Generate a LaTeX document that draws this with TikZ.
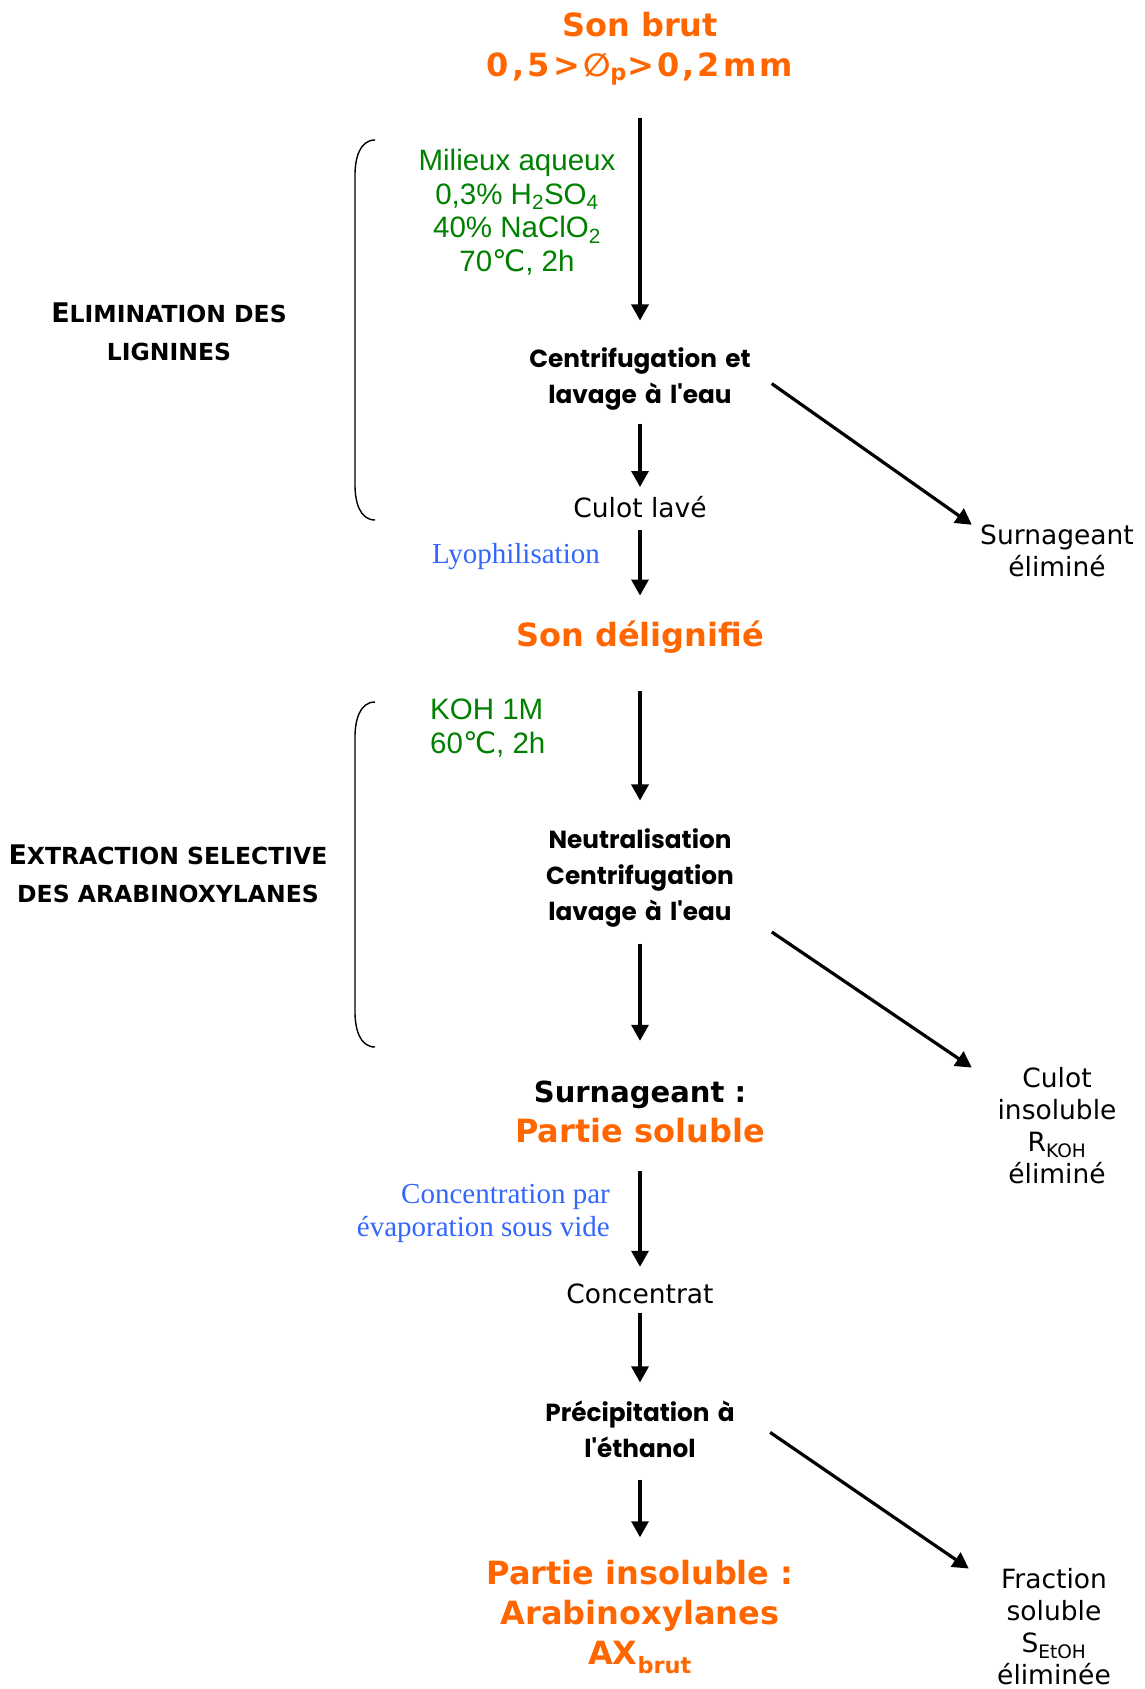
\documentclass[tikz,border=0pt]{standalone}
\usepackage{fontspec}
\setmainfont{DejaVu Sans}
\newfontfamily\orangefont{DejaVu Sans}
\newfontfamily\stepfont{Poppins}
\newfontfamily\greenfont{Liberation Sans}
\newfontfamily\bluefont{Liberation Serif}
\usepackage{tikz}
\usetikzlibrary{arrows.meta,positioning}
\definecolor{sonorange}{HTML}{FF6600}
\definecolor{condgreen}{HTML}{008000}
\definecolor{opblue}{HTML}{3366FF}
\newcommand{\phaseinit}[1]{{\fontsize{27}{39}\selectfont #1}}
\tikzset{
  >={Triangle[length=16pt,width=17pt]},
  prod/.style={inner sep=0pt, align=center, text=sonorange, font=\orangefont\bfseries\fontsize{32}{40}\selectfont},
  stepbx/.style={inner sep=0pt, align=center, text width=250pt, font=\stepfont\bfseries\fontsize{24.75}{36}\selectfont},
  plain/.style={inner sep=0pt, align=center, font=\fontsize{26.5}{32}\selectfont},
  side/.style={plain, text width=170pt},
  cond/.style={inner sep=0pt, text=condgreen, font=\greenfont\fontsize{29.5}{33.5}\selectfont},
  oper/.style={inner sep=0pt, text=opblue, font=\bluefont\fontsize{29}{33}\selectfont},
  phase/.style={inner sep=0pt, align=center, font=\bfseries\fontsize{23.5}{38}\selectfont},
  tr/.style={->, line width=3.2pt},
  brace/.style={line width=1.4pt}
}

\begin{document}
\begin{tikzpicture}[x=1pt, y=-1pt]
    \useasboundingbox (0,0) rectangle (1144,1689);

    % Main column
    \node[prod] (brut) at (640, 49) {Son brut\\{\addfontfeature{LetterSpace=10}0,5>∅\textsubscript{p}>0,2mm}};
    \node[stepbx] (centri1) at (640, 379) {Centrifugation et\\lavage à l'eau};
    \node[plain] (culot1) at (640, 507) {Culot lavé};
    \node[prod] (delig) at (640, 637) {Son délignifié};
    \node[stepbx] (neutral) at (640, 878) {Neutralisation\\Centrifugation\\lavage à l'eau};
    \node[prod, align=center] (soluble) at (640, 1112) {{\color{black}\fontsize{29}{35}\selectfont Surnageant :}\\Partie soluble};
    \node[plain] (concentrat) at (640, 1294) {Concentrat};
    \node[stepbx] (precip) at (640, 1429) {Précipitation à\\l'éthanol};
    \node[prod] (axbrut) at (640, 1617) {Partie insoluble :\\Arabinoxylanes\\AX\textsubscript{brut}};

    % Conditions and operations
    \node[cond, align=center] (milieu) at (517, 212) {Milieux aqueux\\0,3\% H\textsubscript{2}SO\textsubscript{4}\\40\% NaClO\textsubscript{2}\\70{\rmfamily ℃}, 2h};
    \node[cond, align=left, anchor=west] (koh) at (430, 728) {KOH 1M\\60{\rmfamily ℃}, 2h};
    \node[oper] (lyo) at (516, 557) {Lyophilisation};
    \node[oper, align=right, anchor=east] (evap) at (610, 1213) {Concentration par\\évaporation sous vide};

    % Removed fractions
    \node[side] (surn1) at (1057, 551) {Surnageant\\éliminé};
    \node[side] (culot2) at (1057, 1126) {Culot\\insoluble\\R\textsubscript{KOH}\\éliminé};
    \node[side] (fraction) at (1054, 1627) {Fraction\\soluble\\S\textsubscript{EtOH}\\éliminée};

    % Phases
    \node[phase] (elim) at (169, 332) {\phaseinit{E}LIMINATION DES\\LIGNINES};
    \node[phase] (extr) at (168, 874) {\phaseinit{E}XTRACTION SELECTIVE\\DES ARABINOXYLANES};
    \draw[brace] (375,140) to[out=180,in=90] (355,175) -- (355,485) to[out=-90,in=180] (375,520);
    \draw[brace] (375,702) to[out=180,in=90] (355,737) -- (355,1012) to[out=-90,in=180] (375,1047);

    % Flow
    \draw[tr, shorten <=32pt, shorten >=27pt] (brut) -- (centri1);
    \draw[tr, shorten <=13pt, shorten >=9pt] (centri1) -- (culot1);
    \draw[tr, shorten <=12pt, shorten >=25pt] (culot1) -- (delig);
    \draw[tr, shorten <=38pt, shorten >=28pt] (delig) -- (neutral);
    \draw[tr, shorten <=16pt, shorten >=40pt] (neutral) -- (soluble);
    \draw[tr, shorten <=28pt, shorten >=17pt] (soluble) -- (concentrat);
    \draw[tr, shorten <=9pt, shorten >=18pt] (concentrat) -- (precip);
    \draw[tr, shorten <=22pt, shorten >=23pt] (precip) -- (axbrut);
    \draw[tr, shorten <=8pt] (centri1.east) -- (surn1.north west);
    \draw[tr, shorten <=8pt] (neutral.south east) -- (culot2.north west);
    \draw[tr, shorten <=6pt] (precip.east) -- (fraction.north west);
\end{tikzpicture}
\end{document}
